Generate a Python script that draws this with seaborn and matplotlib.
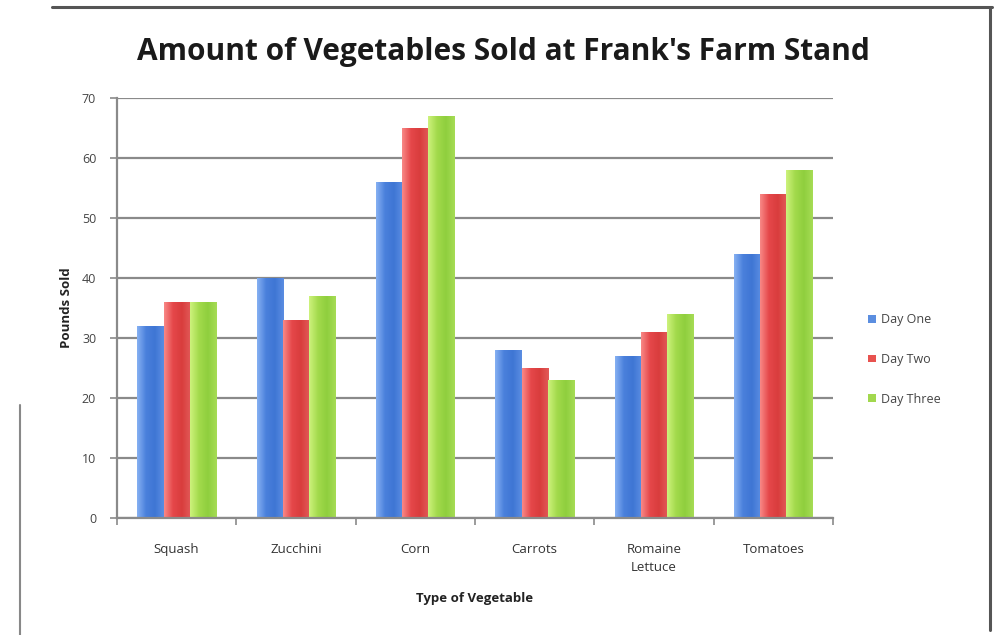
import matplotlib
matplotlib.use("Agg")
import matplotlib.pyplot as plt
from matplotlib.lines import Line2D
from matplotlib.patches import Patch
from matplotlib.colors import LinearSegmentedColormap
import seaborn as sns
import pandas as pd
import numpy as np

# Data
vegetables = ["Squash", "Zucchini", "Corn", "Carrots", "Romaine\nLettuce", "Tomatoes"]
days = ["Day One", "Day Two", "Day Three"]
day_one = [32, 40, 56, 28, 27, 44]
day_two = [36, 33, 65, 25, 31, 54]
day_three = [36, 37, 67, 23, 34, 58]
y_ticks = [0, 10, 20, 30, 40, 50, 60, 70]

colors = ["#5b8ee0", "#e8524f", "#a2d84e"]
# light -> dark -> light shading across each bar
shades = [
    ["#86b0f2", "#4a80dc", "#3f76d4", "#5a8de2"],
    ["#f88886", "#e5474a", "#d93d3d", "#e25a58"],
    ["#cdf27c", "#a3da4c", "#8fcf3e", "#a6dc55"],
]

df = pd.DataFrame({
    "Vegetable": vegetables * 3,
    "Day": [d for d in days for _ in vegetables],
    "Pounds": day_one + day_two + day_three,
})

sns.set_theme(style="white")
plt.rcParams["font.family"] = ["Open Sans", "DejaVu Sans"]

fig = plt.figure(figsize=(9.94, 6.35), dpi=100)
ax = fig.add_axes([0.1177, 0.1843, 0.7203, 0.6614])

sns.barplot(data=df, x="Vegetable", y="Pounds", hue="Day", hue_order=days,
            palette=colors, width=0.66, gap=0.0, ax=ax, legend=False,
            saturation=1.0, linewidth=0, edgecolor="none")

ax.set_ylim(0, 70)
ax.set_xlim(-0.5, len(vegetables) - 0.5)

# Shade each bar with a horizontal gradient clipped to the bar shape
grad = np.linspace(0, 1, 64).reshape(1, -1)
for i, container in enumerate(ax.containers):
    cmap = LinearSegmentedColormap.from_list(f"shade{i}", shades[i])
    for bar in container:
        x0, y0 = bar.get_x(), bar.get_y()
        w, h = bar.get_width(), bar.get_height()
        im = ax.imshow(grad, cmap=cmap, aspect="auto",
                       extent=(x0, x0 + w, y0, y0 + h), zorder=bar.get_zorder() + 0.1,
                       interpolation="bilinear")
        im.set_clip_path(bar)

ax.set_xlim(-0.5, len(vegetables) - 0.5)
ax.set_ylim(0, 70)
ax.set_aspect("auto")
ax.set_yticks(y_ticks)
ax.yaxis.grid(True, color="#8a8a8a", linewidth=1.6)
ax.set_axisbelow(True)
for s in ["top", "right"]:
    ax.spines[s].set_visible(False)
ax.spines["left"].set_color("#8a8a8a")
ax.spines["left"].set_linewidth(1.6)
ax.spines["bottom"].set_color("#8a8a8a")
ax.spines["bottom"].set_linewidth(1.6)
ax.spines["bottom"].set_zorder(5)

ax.tick_params(axis="y", which="both", left=True, length=5, width=1.2,
               color="#8a8a8a", labelsize=9, labelcolor="#444444", pad=10)
ax.tick_params(axis="x", which="major", bottom=False, labelsize=9.5,
               labelcolor="#333333", pad=12)
for lbl in ax.get_xticklabels():
    lbl.set_linespacing(1.5)
ax.set_xticks(np.arange(-0.5, len(vegetables), 1.0), minor=True)
ax.tick_params(axis="x", which="minor", bottom=True, length=5, width=1.2,
               color="#8a8a8a")

ax.set_ylabel("Pounds Sold", fontsize=9.5, fontweight="bold", color="#222222",
              labelpad=6)
ax.set_xlabel("Type of Vegetable", fontsize=9.5, fontweight="bold",
              color="#222222", labelpad=13)

fig.text(0.506, 0.918, "Amount of Vegetables Sold at Frank's Farm Stand",
         ha="center", va="center", fontsize=21.5, fontweight="bold",
         color="#1a1a1a")

handles = [Patch(facecolor=c, edgecolor="none") for c in colors]
fig.legend(handles, days, loc="center left", bbox_to_anchor=(0.862, 0.434),
           frameon=False, fontsize=9, labelcolor="#444444",
           handlelength=0.6, handleheight=0.6, handletextpad=0.4,
           labelspacing=2.15)

# Chart frame
frame_color = "#555555"
fig.add_artist(Line2D([52 / 994, 992 / 994], [1 - 7 / 635, 1 - 7 / 635],
                      color=frame_color, linewidth=2.2))
fig.add_artist(Line2D([990 / 994, 990 / 994], [1 - 7 / 635, 1 - 630 / 635],
                      color=frame_color, linewidth=2.2))
fig.add_artist(Line2D([20 / 994, 20 / 994], [1 - 405 / 635, 0],
                      color="#888888", linewidth=1.5))

fig.savefig("out.png", dpi=100)
